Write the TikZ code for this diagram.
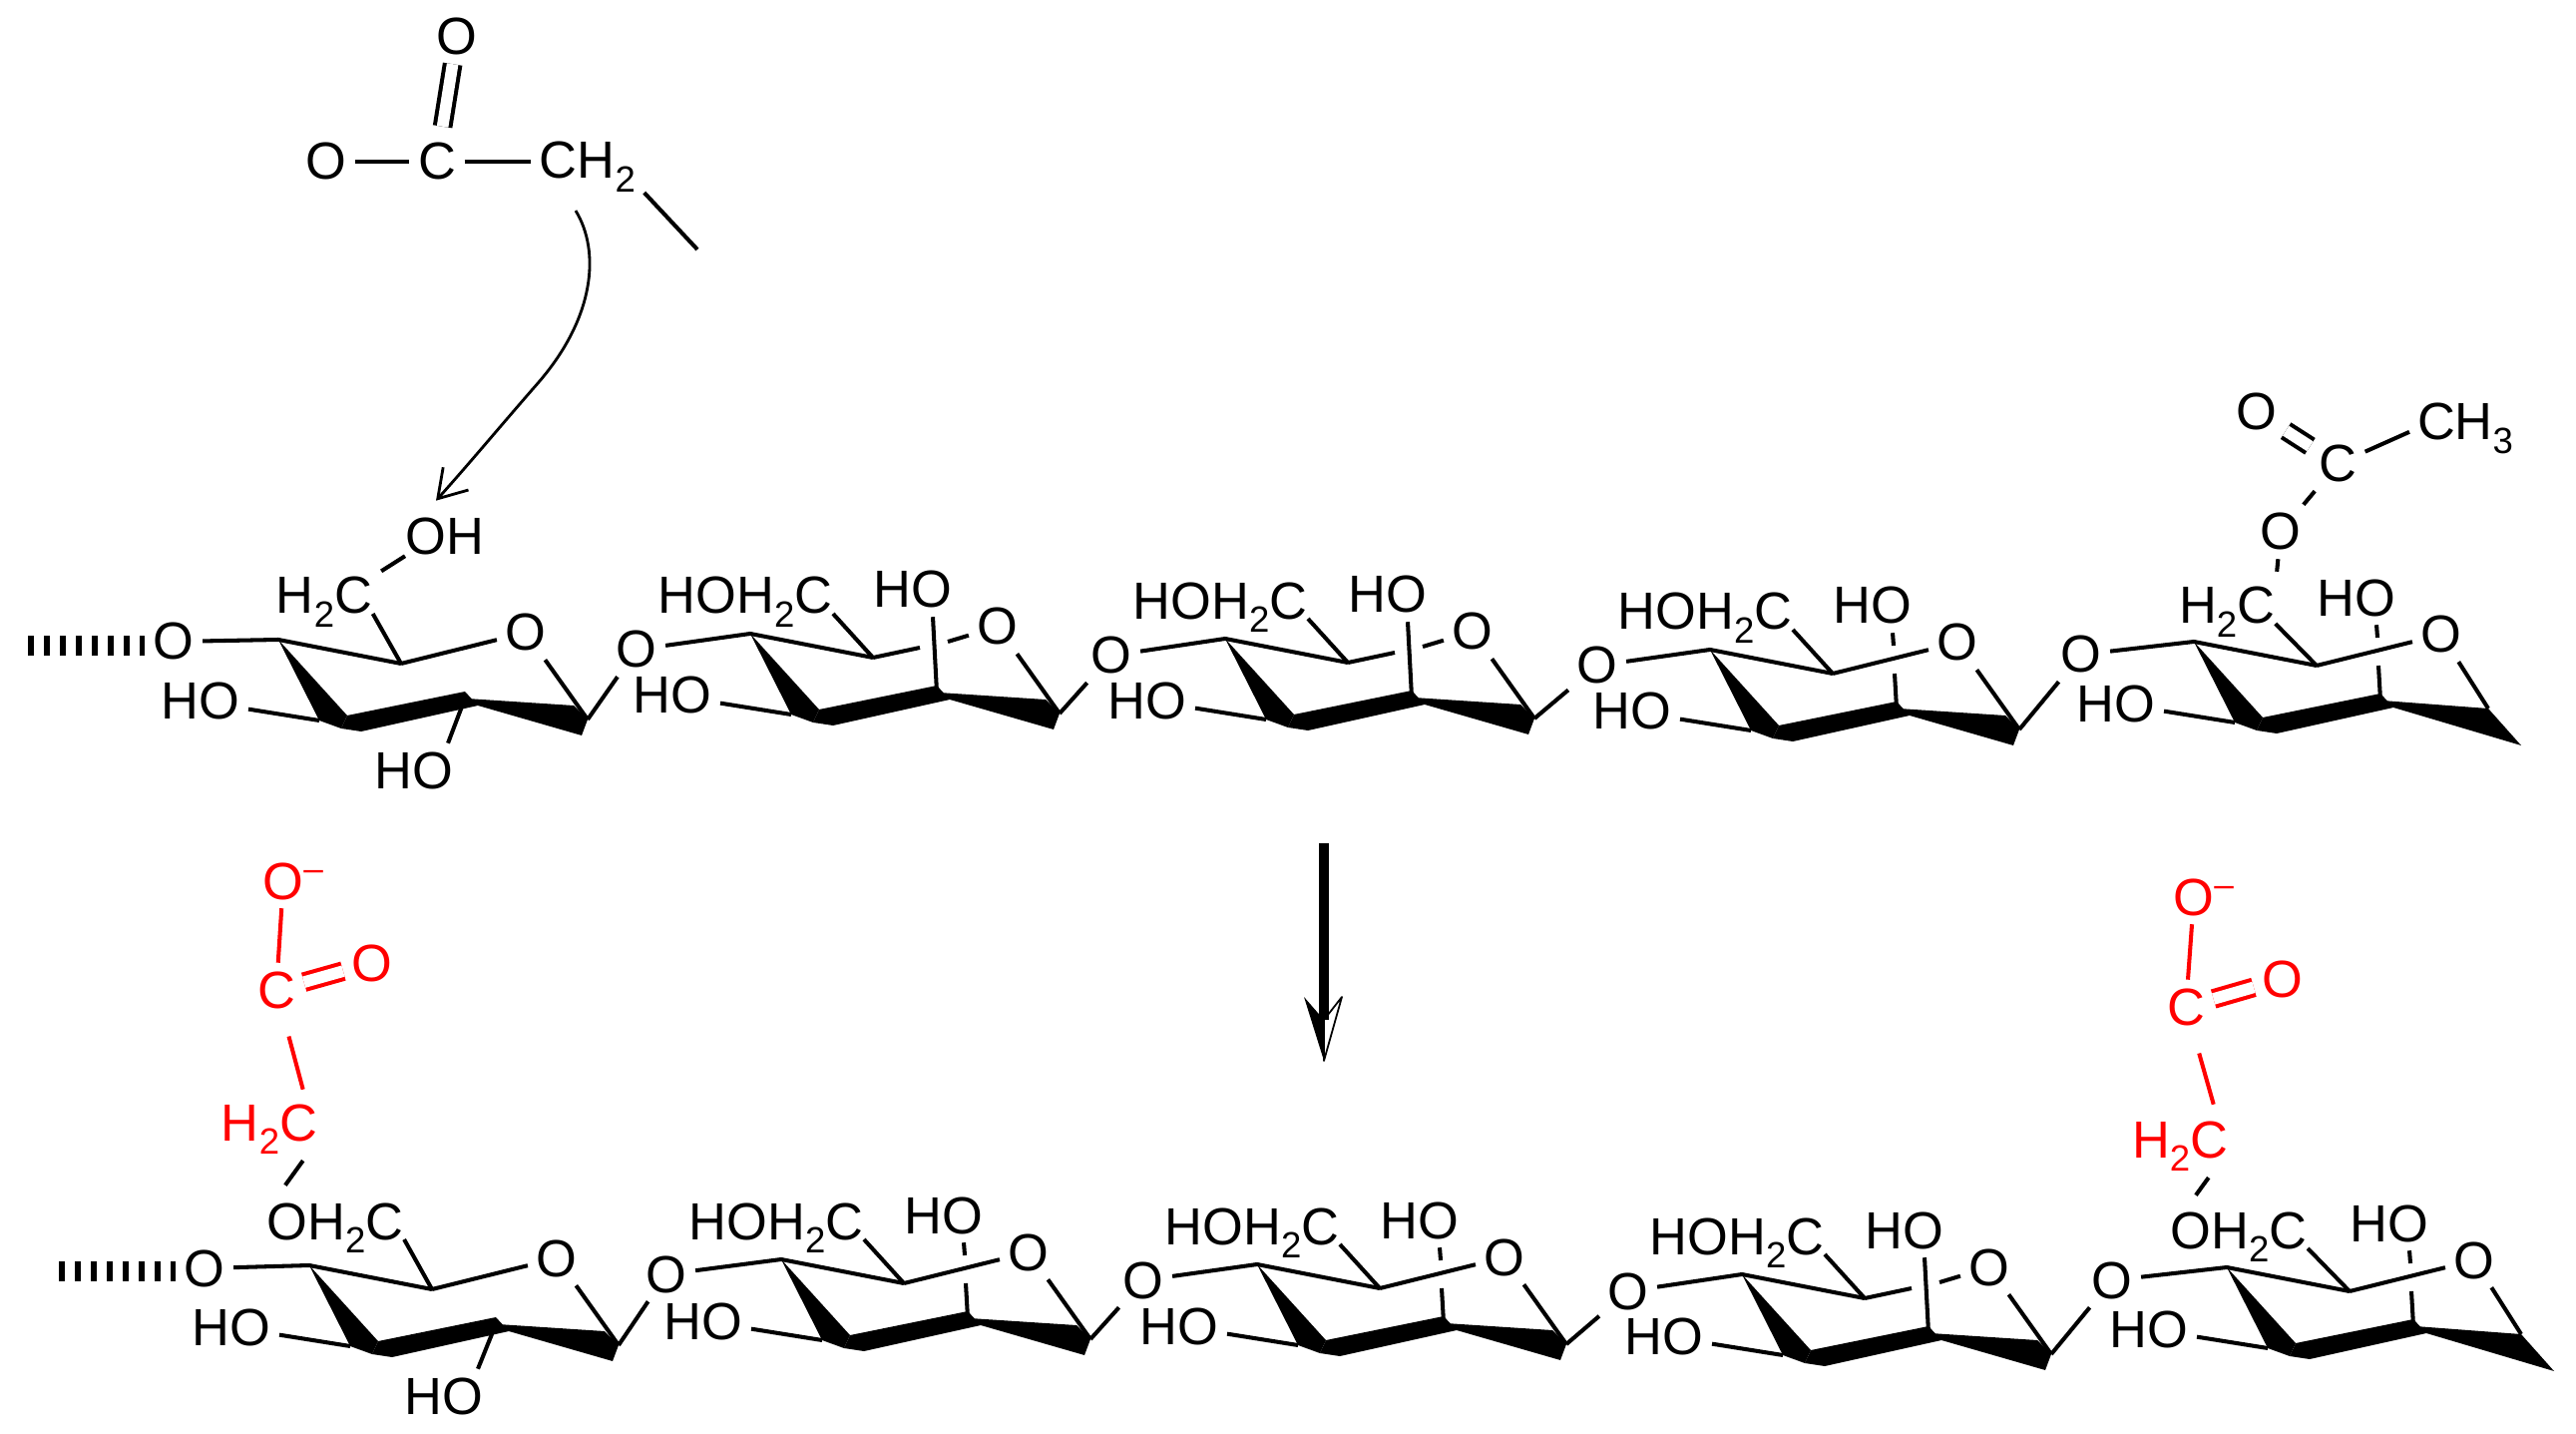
\documentclass[tikz,border=0pt]{standalone}
\usepackage{fontspec}
\setmainfont{Liberation Sans}
\usetikzlibrary{arrows.meta}
\newcommand{\sbs}[1]{\raisebox{-3.8pt}{\fontsize{10.4}{10.4}\selectfont #1}}
\newcommand{\nega}{\rlap{\raisebox{5.3pt}{\fontsize{10}{10}\selectfont --}}}
\tikzset{
    atom/.style={anchor=base, inner sep=0.08cm, font=\fontsize{14.9}{16}\selectfont},
    group/.style={atom, inner sep=0pt},
    bond/.style={line width=1.15pt, line join=round},
    dblbond/.style={bond, double, double distance=3.3pt},
    hashbond/.style={line width=0.2cm, dash pattern=on 1.7pt off 2.85pt},
}
\begin{document}
\begin{tikzpicture}[x=0.01cm, y=-0.01cm]
    \useasboundingbox (0,0) rectangle (2582,1437);

    % rings
    \foreach \n/\x/\y/\ox/\oy in {a1/279/641/-105/20, a2/752/635/-114/34, a3/1228/640/-114/35, a4/1714/651/-113/34, a5/2199/643/-113/31,
                                  b1/310/1268/-105/21, b2/783/1262/-115/33, b3/1260/1267/-114/34, b4/1746/1277/-114/35, b5/2232/1270/-115/31} {
        \begin{scope}[shift={(\x,\y)}]
            \coordinate (\n c4) at (0,0);
            \coordinate (\n c5) at (123,24);
            \coordinate (\n c3) at (41,81);
            \coordinate (\n c2) at (187,59);
            \node[atom] (\n o) at (248,11) {O};
            \node[atom] (\n ol) at (\ox,\oy) {O};
            \node[atom] (\n hl) at (-78,80) {HO};
            \fill (\n c4) -- (69,76) -- (63,89) -- (\n c3) -- cycle;
            \fill (69,76) -- (187,52) -- (200,66) -- (83,92) -- (63,89) -- cycle;
            \draw[bond] (\n ol) -- (\n c4) -- (\n c5);
            \draw[bond] (\n hl) -- (\n c3);
        \end{scope}
    }

    % wedge towards the next ring
    \foreach \n in {a1,a2,a3,a4,b1,b2,b3,b4} {
        \coordinate (\n c1) at ([shift={(310,80)}]\n c4);
        \fill ([shift={(189,59)}]\n c4) -- ([shift={(296,66)}]\n c4) -- (\n c1) -- ([shift={(304,96)}]\n c4) -- ([shift={(200,66)}]\n c4) -- cycle;
        \draw[bond] (\n o) -- (\n c1);
    }
    \foreach \n in {a5,b5} {
        \coordinate (\n c1) at ([shift={(295,67)}]\n c4);
        \fill ([shift={(189,59)}]\n c4) -- (\n c1) -- ([shift={(328,104)}]\n c4) -- ([shift={(200,66)}]\n c4) -- cycle;
        \draw[bond] (\n o) -- (\n c1);
    }
    \foreach \p/\q in {a1/a2, a2/a3, a3/a4, a4/a5, b1/b2, b2/b3, b3/b4, b4/b5} {
        \draw[bond] (\p c1) -- (\q ol);
    }

    % HO on top of the ring
    \foreach \n in {a2,a3,a4,a5,b2,b3,b4,b5} {
        \node[atom] (\n ho) at ([shift={(163,-26)}]\n c4) {HO};
    }
    \foreach \n in {a1,a4,a5,b1,b2,b3,b5} {
        \draw[bond] (\n c5) -- (\n o);
    }
    \foreach \n in {a4,a5,b2,b3,b5} {
        \draw[bond] ([xshift=0.2cm]\n ho.south) -- ([shift={(184,-4)}]\n c4);
        \draw[bond] ([shift={(185,24)}]\n c4) -- (\n c2);
    }
    \foreach \n in {a2,a3,b4} {
        \draw[bond] (\n c5) -- ([shift={(170,14)}]\n c4);
        \draw[bond] ([shift={(198,8)}]\n c4) -- (\n o);
        \draw[bond] ([xshift=0.2cm]\n ho.south) -- (\n c2);
    }

    % HOH2C
    \foreach \n in {a2,a3,a4,b2,b3,b4} {
        \node[group] (\n g) at ([shift={(-5,-20)}]\n c4) {HOH\sbs{2}C};
        \draw[bond] (\n c5) -- (\n g.base east);
    }

    % first ring of the upper chain
    \coordinate (a1h) at (28,647);
    \draw[hashbond] (a1h) -- (a1h-|a1ol.west);
    \node[group] (a1g) at (325,615) {H\sbs{2}C};
    \node[group] (a1oh) at (446,556) {OH};
    \node[atom] (a1hb) at (415,790) {HO};
    \draw[bond] (a1c5) -- (a1g.base east);
    \draw[bond, shorten <=0.1cm] (a1g.north east) -- (a1oh.south west);
    \draw[bond] (a1c2) -- ([xshift=0.34cm]a1hb.north);

    % first ring of the lower chain
    \coordinate (b1h) at (59,1274);
    \draw[hashbond] (b1h) -- (b1h-|b1ol.west);
    \node[group] (b1g) at (336,1242) {OH\sbs{2}C};
    \node[atom] (b1hb) at (445,1417) {HO};
    \draw[bond] (b1c5) -- (b1g.base east);
    \draw[bond] (b1c2) -- ([xshift=0.34cm]b1hb.north);

    % acetyl on the last ring
    \node[group] (a5g) at (2232,625) {H\sbs{2}C};
    \node[atom] (a5e) at (2286,551) {O};
    \node[atom] (a5c) at (2343,483) {C};
    \node[atom] (a5d) at (2262,431) {O};
    \node[group] (a5m) at (2471,441) {CH\sbs{3}};
    \draw[bond] (a5c5) -- (a5g.base east);
    \draw[bond, shorten <=0.15cm] (a5g.north east) -- (a5e);
    \draw[bond] (a5e) -- (a5c);
    \draw[dblbond] (a5c) -- (a5d);
    \draw[bond, shorten >=0.08cm] (a5c) -- (a5m.west);

    % group on top
    \node[atom] (to) at (327,180) {O};
    \node[atom] (tc) at (438,180) {C};
    \node[atom] (td) at (458,55) {O};
    \node[atom] (tg) at (589,179) {CH\sbs{2}};
    \coordinate (te) at (699,250);
    \draw[bond] (to) -- (tc);
    \draw[dblbond, shorten <=0.08cm] (tc) -- (td);
    \draw[bond] (tc) -- (tc-|tg.west);
    \draw[bond] ([yshift=0.08cm]tg.south east) -- (te);

    % curved arrow
    \draw[line width=0.8pt, -{Straight Barb[length=0.27cm, width=0.34cm]}]
        ([xshift=-0.12cm, yshift=-0.1cm]tg.south) .. controls (602,252) and (596,318) .. (540,383)
        .. controls (505,423) and (470,465) .. ([xshift=-0.09cm, yshift=0.17cm]a1oh.north);

    % main arrow
    \coordinate (m1) at (1327,845);
    \coordinate (m2) at (1327,1022);
    \coordinate (m3) at (1327,1063);
    \draw[line width=0.1cm] (m1) -- (m2);
    \fill (m3) -- (1307,999) -- (m2) -- cycle;
    \draw[line width=0.5pt, line join=round] (m3) -- (1345,999) -- (m2) -- cycle;

    % red groups, lower chain
    \node[group] (b5g) at (2244,1251) {OH\sbs{2}C};
    \draw[bond] (b5c5) -- (b5g.base east);
    \begin{scope}[red]
        \node[atom, text=red] (r1n) at (284,901) {O\nega};
        \node[atom, text=red] (r1c) at (277,1010) {C};
        \node[atom, text=red] (r1d) at (373,983) {O};
        \node[group, text=red] (r1g) at (270,1143) {H\sbs{2}C};
        \draw[bond] (r1n) -- (r1c);
        \draw[dblbond] (r1c) -- (r1d);
        \draw[bond, shorten <=0.2cm] (r1c) -- ([xshift=-0.15cm, yshift=0.14cm]r1g.north east);

        \node[atom, text=red] (r5n) at (2199,917) {O\nega};
        \node[atom, text=red] (r5c) at (2191,1027) {C};
        \node[atom, text=red] (r5d) at (2288,999) {O};
        \node[group, text=red] (r5g) at (2185,1160) {H\sbs{2}C};
        \draw[bond] (r5n) -- (r5c);
        \draw[dblbond] (r5c) -- (r5d);
        \draw[bond, shorten <=0.2cm] (r5c) -- ([xshift=-0.15cm, yshift=0.16cm]r5g.north east);
    \end{scope}
    \draw[bond] ([xshift=-0.15cm, yshift=-0.06cm]r1g.south east) -- ([xshift=0.19cm, yshift=0.17cm]b1g.north west);
    \draw[bond] ([xshift=-0.2cm, yshift=-0.06cm]r5g.south east) -- ([xshift=0.26cm, yshift=0.16cm]b5g.north west);
\end{tikzpicture}
\end{document}
